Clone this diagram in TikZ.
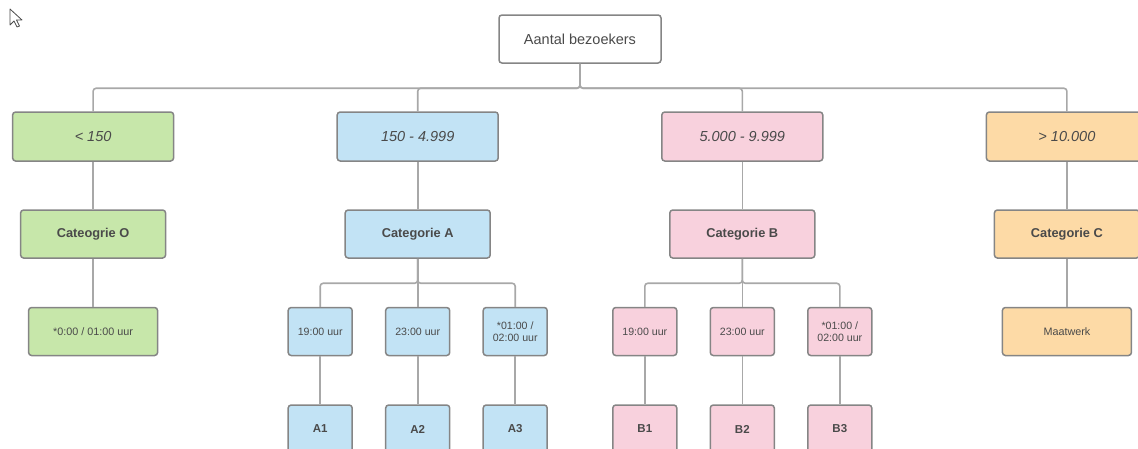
\documentclass[tikz,border=0pt]{standalone}
\usepackage{fontspec}
\setmainfont{Liberation Sans}

\definecolor{groen}{HTML}{C7E7AA}
\definecolor{blauw}{HTML}{C2E3F5}
\definecolor{roze}{HTML}{F8D1DD}
\definecolor{oranje}{HTML}{FDDAA6}
\definecolor{rand}{HTML}{858585}
\definecolor{lijn}{HTML}{A8A8A8}
\definecolor{tekst}{HTML}{4A4A4A}

\tikzset{
  box/.style={rectangle, rounded corners=3pt, draw=rand, line width=1.5pt,
    text=tekst, minimum height=48pt, inner sep=1pt, align=center},
  topbox/.style={box, fill=white, minimum width=162pt,
    font=\fontsize{14.5}{16}\selectfont},
  rangebox/.style={box, minimum width=161pt, minimum height=49pt,
    font=\fontsize{14.5}{16}\selectfont\itshape},
  catbox/.style={box, minimum width=145pt, font=\fontsize{12.8}{14}\selectfont\bfseries},
  timebox/.style={box, minimum width=64pt, font=\fontsize{10.6}{12.5}\selectfont},
  widebox/.style={box, minimum width=129pt, font=\fontsize{10.8}{12.5}\selectfont},
  codebox/.style={box, minimum width=64pt, font=\fontsize{11.5}{13}\selectfont\bfseries},
}

\begin{document}
\begin{tikzpicture}[x=1pt, y=1pt,
		level 1/.style={sibling distance=324.6pt},
		level 3/.style={sibling distance=97.5pt},
		level distance = 97.5pt,
		edge from parent/.style={draw=lijn, line width=1.6pt, rounded corners=3pt},
		edge from parent path={(\tikzparentnode.south) -- ++(0,-24.5) -| (\tikzchildnode.north)}
		]
	\useasboundingbox (0,0) rectangle (1138,-448);
	% muiswijzer
	\draw [fill=white, draw=tekst, line width=0.8pt, line join=round]
	  (10,-9) -- (10,-25) -- (14,-21) -- (17,-27) -- (19.5,-26) -- (16.5,-20) -- (22,-20) -- cycle;
	\node [topbox] (bezoekers) at (580,-39) {Aantal bezoekers}
	  child {
		  node [rangebox, fill=groen] (klein) {< 150}
		  child { node [catbox, fill=groen] (catO) {Cateogrie O}
			  child { node [widebox, fill=groen] (tijdO) {*0:00 / 01:00 uur} } }
	  }
	  child {
		  node [rangebox, fill=blauw] (middel) {150 - 4.999}
		  child { node [catbox, fill=blauw] (catA) {Categorie A}
			  child { node [timebox, fill=blauw] (a19) {19:00 uur}
				  child { node [codebox, fill=blauw] (a1) {A1} } }
			  child { node [timebox, fill=blauw] (a23) {23:00 uur}
				  child { node [codebox, fill=blauw] (a2) {A2} } }
			  child { node [timebox, fill=blauw] (a01) {*01:00 /\\02:00 uur}
				  child { node [codebox, fill=blauw] (a3) {A3} } } }
	  }
	  child {
		  node [rangebox, fill=roze] (groot) {5.000 - 9.999}
		  child { node [catbox, fill=roze] (catB) {Categorie B}
			  child { node [timebox, fill=roze] (b19) {19:00 uur}
				  child { node [codebox, fill=roze] (b1) {B1} } }
			  child { node [timebox, fill=roze] (b23) {23:00 uur}
				  child { node [codebox, fill=roze] (b2) {B2} } }
			  child { node [timebox, fill=roze] (b01) {*01:00 /\\02:00 uur}
				  child { node [codebox, fill=roze] (b3) {B3} } } }
	  }
	  child {
		  node [rangebox, fill=oranje] (enorm) {> 10.000}
		  child { node [catbox, fill=oranje] (catC) {Categorie C}
			  child { node [widebox, fill=oranje] (maat) {Maatwerk} } }
	  };
\end{tikzpicture}
\end{document}
